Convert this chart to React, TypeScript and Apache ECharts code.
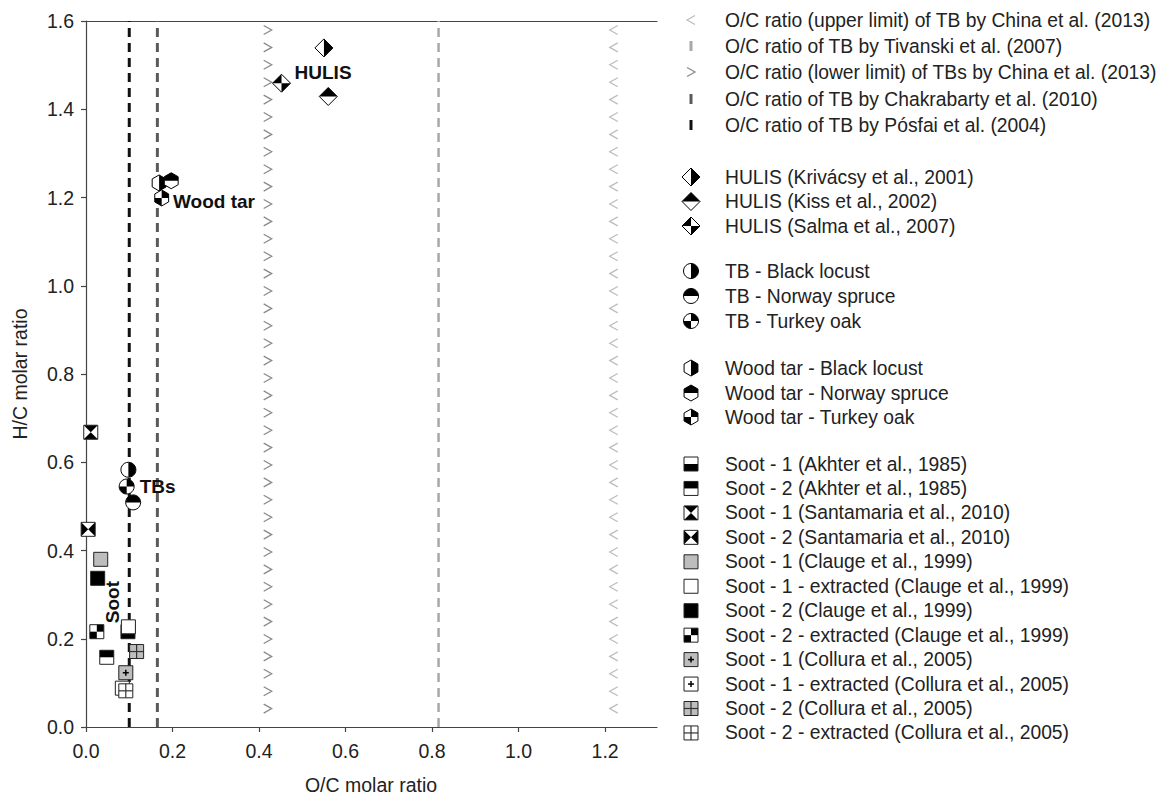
import React, { useEffect, useRef } from 'react';
import * as echarts from 'echarts';

// ---------- axes ----------
const xTicks = [0, 0.2, 0.4, 0.6, 0.8, 1.0, 1.2];
const yTicks = [0, 0.2, 0.4, 0.6, 0.8, 1.0, 1.2, 1.4, 1.6];
const xMax = 1.32;
const yMax = 1.6;

// ---------- reference O/C lines ----------
const refNames = [
  'O/C ratio (upper limit) of TB by China et al. (2013)',
  'O/C ratio of TB by Tivanski et al. (2007)',
  'O/C ratio (lower limit) of TBs by China et al. (2013)',
  'O/C ratio of TB by Chakrabarty et al. (2010)',
  'O/C ratio of TB by Pósfai et al. (2004)',
];
const refOC = [1.22, 0.815, 0.42, 0.165, 0.1];

// ---------- HULIS ----------
const hulisNames = ['HULIS (Krivácsy et al., 2001)', 'HULIS (Kiss et al., 2002)', 'HULIS (Salma et al., 2007)'];
const hulisOC = [0.55, 0.56, 0.452];
const hulisHC = [1.539, 1.429, 1.459];

// ---------- TB ----------
const tbNames = ['TB - Black locust', 'TB - Norway spruce', 'TB - Turkey oak'];
const tbOC = [0.098, 0.109, 0.094];
const tbHC = [0.583, 0.509, 0.545];

// ---------- Wood tar ----------
const woodNames = ['Wood tar - Black locust', 'Wood tar - Norway spruce', 'Wood tar - Turkey oak'];
const woodOC = [0.169, 0.197, 0.175];
const woodHC = [1.233, 1.238, 1.199];

// ---------- Soot ----------
const sootNames = [
  'Soot - 1 (Akhter et al., 1985)',
  'Soot - 2 (Akhter et al., 1985)',
  'Soot - 1 (Santamaria et al., 2010)',
  'Soot - 2 (Santamaria et al., 2010)',
  'Soot - 1 (Clauge et al., 1999)',
  'Soot - 1 - extracted (Clauge et al., 1999)',
  'Soot - 2 (Clauge et al., 1999)',
  'Soot - 2 - extracted (Clauge et al., 1999)',
  'Soot - 1 (Collura et al., 2005)',
  'Soot - 1 - extracted (Collura et al., 2005)',
  'Soot - 2 (Collura et al., 2005)',
  'Soot - 2 - extracted (Collura et al., 2005)',
];
const sootOC = [0.097, 0.048, 0.011, 0.005, 0.034, 0.098, 0.027, 0.025, 0.092, 0.084, 0.117, 0.092];
const sootHC = [0.216, 0.158, 0.668, 0.448, 0.38, 0.227, 0.337, 0.216, 0.123, 0.088, 0.171, 0.082];

// ---------- annotations ----------
const annotTexts = ['HULIS', 'Wood tar', 'TBs', 'Soot'];
const annotOC = [0.548, 0.201, 0.124, 0.062];
const annotHC = [1.483, 1.191, 0.546, 0.283];

// ---------- styles (not data) ----------
const refKinds = ['lt', 'vdash', 'gt', 'vdash', 'vdash'];
const refColors = ['#bdbdbd', '#a8a8a8', '#8a8a8a', '#5a5a5a', '#111111'];
const refWidths = [0, 2.5, 0, 3, 3];
const hulisKinds = ['dRight', 'dTop', 'dQuad'];
const tbKinds = ['cRight', 'cTop', 'cQuad'];
const woodKinds = ['hRight', 'hTop', 'hQuad'];
const sootKinds = ['sBottom', 'sTop', 'sHour', 'sBow', 'sGray', 'sWhite', 'sBlack', 'sCheck', 'sGrayDot', 'sWhiteDot', 'sGrayGrid', 'sWhiteGrid'];
const annotAlign = ['center', 'left', 'left', 'center'];
const annotRot = [0, 0, 0, Math.PI / 2];

const FONT = '"Liberation Sans", Arial, Helvetica, sans-serif';
const K = '#000';
const GRAY = '#bdbdbd';

function drawMarker(kind: string, cx: number, cy: number, color?: string): any[] {
  const els: any[] = [];
  const fillB = (pts: number[][]) => ({ type: 'polygon', shape: { points: pts }, style: { fill: K } });
  if (kind === 'lt') {
    els.push({ type: 'polyline', shape: { points: [[cx + 4, cy - 4.5], [cx - 4, cy], [cx + 4, cy + 4.5]] }, style: { stroke: color, lineWidth: 1.3, fill: 'none' } });
  } else if (kind === 'gt') {
    els.push({ type: 'polyline', shape: { points: [[cx - 4, cy - 4.5], [cx + 4, cy], [cx - 4, cy + 4.5]] }, style: { stroke: color, lineWidth: 1.3, fill: 'none' } });
  } else if (kind === 'vdash') {
    els.push({ type: 'rect', shape: { x: cx - 1.5, y: cy - 5, width: 3, height: 10 }, style: { fill: color } });
  } else if (kind[0] === 'c') {
    const r = 7.5;
    els.push({ type: 'circle', shape: { cx, cy, r }, style: { fill: '#fff' } });
    const sec = (a0: number, a1: number) => ({
      type: 'sector',
      shape: { cx, cy, r0: 0, r, startAngle: a0, endAngle: a1, clockwise: true },
      style: { fill: K },
    });
    if (kind === 'cRight') els.push(sec(-Math.PI / 2, Math.PI / 2));
    if (kind === 'cTop') els.push(sec(Math.PI, 2 * Math.PI));
    if (kind === 'cQuad') {
      els.push(sec(-Math.PI / 2, 0));
      els.push(sec(Math.PI / 2, Math.PI));
    }
    els.push({ type: 'circle', shape: { cx, cy, r }, style: { fill: 'none', stroke: K, lineWidth: 1 } });
  } else if (kind[0] === 'h') {
    const r = 8;
    const a = r * Math.cos(Math.PI / 6);
    const hex = [
      [cx, cy - r], [cx + a, cy - r / 2], [cx + a, cy + r / 2],
      [cx, cy + r], [cx - a, cy + r / 2], [cx - a, cy - r / 2],
    ];
    els.push({ type: 'polygon', shape: { points: hex }, style: { fill: '#fff' } });
    if (kind === 'hRight') els.push(fillB([[cx, cy - r], [cx + a, cy - r / 2], [cx + a, cy + r / 2], [cx, cy + r]]));
    if (kind === 'hTop') els.push(fillB([[cx - a, cy], [cx - a, cy - r / 2], [cx, cy - r], [cx + a, cy - r / 2], [cx + a, cy]]));
    if (kind === 'hQuad') {
      els.push(fillB([[cx, cy], [cx, cy - r], [cx + a, cy - r / 2], [cx + a, cy]]));
      els.push(fillB([[cx, cy], [cx, cy + r], [cx - a, cy + r / 2], [cx - a, cy]]));
    }
    els.push({ type: 'polygon', shape: { points: hex }, style: { fill: 'none', stroke: K, lineWidth: 1 } });
  } else if (kind[0] === 'd') {
    const r = 9;
    const dia = [[cx, cy - r], [cx + r, cy], [cx, cy + r], [cx - r, cy]];
    els.push({ type: 'polygon', shape: { points: dia }, style: { fill: '#fff' } });
    if (kind === 'dRight') els.push(fillB([[cx, cy - r], [cx + r, cy], [cx, cy + r]]));
    if (kind === 'dTop') els.push(fillB([[cx - r, cy], [cx, cy - r], [cx + r, cy]]));
    if (kind === 'dQuad') {
      els.push(fillB([[cx, cy], [cx - r, cy], [cx, cy - r]]));
      els.push(fillB([[cx, cy], [cx + r, cy], [cx, cy + r]]));
    }
    els.push({ type: 'polygon', shape: { points: dia }, style: { fill: 'none', stroke: K, lineWidth: 1 } });
  } else if (kind[0] === 's') {
    const h = 7;
    let base = '#fff';
    if (kind === 'sGray' || kind === 'sGrayDot' || kind === 'sGrayGrid') base = GRAY;
    if (kind === 'sBlack') base = K;
    els.push({ type: 'rect', shape: { x: cx - h, y: cy - h, width: 2 * h, height: 2 * h }, style: { fill: base } });
    if (kind === 'sBottom') els.push(fillB([[cx - h, cy], [cx + h, cy], [cx + h, cy + h], [cx - h, cy + h]]));
    if (kind === 'sTop') els.push(fillB([[cx - h, cy - h], [cx + h, cy - h], [cx + h, cy], [cx - h, cy]]));
    if (kind === 'sHour') {
      els.push(fillB([[cx - h, cy - h], [cx + h, cy - h], [cx, cy]]));
      els.push(fillB([[cx - h, cy + h], [cx + h, cy + h], [cx, cy]]));
    }
    if (kind === 'sBow') {
      els.push(fillB([[cx - h, cy - h], [cx - h, cy + h], [cx, cy]]));
      els.push(fillB([[cx + h, cy - h], [cx + h, cy + h], [cx, cy]]));
    }
    if (kind === 'sCheck') {
      els.push(fillB([[cx, cy - h], [cx + h, cy - h], [cx + h, cy], [cx, cy]]));
      els.push(fillB([[cx - h, cy], [cx, cy], [cx, cy + h], [cx - h, cy + h]]));
    }
    if (kind === 'sGrayDot' || kind === 'sWhiteDot') {
      els.push({ type: 'line', shape: { x1: cx - 3, y1: cy, x2: cx + 3, y2: cy }, style: { stroke: K, lineWidth: 1.5 } });
      els.push({ type: 'line', shape: { x1: cx, y1: cy - 3, x2: cx, y2: cy + 3 }, style: { stroke: K, lineWidth: 1.5 } });
    }
    if (kind === 'sGrayGrid' || kind === 'sWhiteGrid') {
      els.push({ type: 'line', shape: { x1: cx - h, y1: cy, x2: cx + h, y2: cy }, style: { stroke: '#333', lineWidth: 1.2 } });
      els.push({ type: 'line', shape: { x1: cx, y1: cy - h, x2: cx, y2: cy + h }, style: { stroke: '#333', lineWidth: 1.2 } });
    }
    els.push({ type: 'rect', shape: { x: cx - h, y: cy - h, width: 2 * h, height: 2 * h }, style: { fill: 'none', stroke: '#222', lineWidth: 1 } });
  }
  return els;
}

export default function App() {
  const ref = useRef<HTMLDivElement>(null);
  useEffect(() => {
    if (!ref.current) return;
    const chart = echarts.init(ref.current, undefined, { renderer: 'svg' });

    const series: any[] = [];

    refOC.forEach((oc, i) => {
      if (refKinds[i] === 'vdash') {
        series.push({
          type: 'line',
          name: refNames[i],
          data: [[oc, 0], [oc, yMax]],
          symbol: 'none',
          silent: true,
          z: 1,
          lineStyle: { color: refColors[i], width: refWidths[i], type: [9, 6] },
        });
      } else {
        series.push({
          type: 'custom',
          name: refNames[i],
          data: [[oc, yMax]],
          silent: true,
          z: 1,
          renderItem: (params: any, api: any) => {
            const top = api.coord([api.value(0), yMax]);
            const bot = api.coord([api.value(0), 0]);
            const children: any[] = [];
            for (let y = top[1] + 9; y < bot[1] - 2; y += 17.4) {
              children.push(...drawMarker(refKinds[i], top[0], y, refColors[i]));
            }
            return { type: 'group', children };
          },
        });
      }
    });

    const addGroup = (names: string[], oc: number[], hc: number[], kinds: string[]) => {
      names.forEach((n, i) => {
        series.push({
          type: 'custom',
          name: n,
          data: [[oc[i], hc[i]]],
          z: 5,
          renderItem: (params: any, api: any) => {
            const p = api.coord([api.value(0), api.value(1)]);
            return { type: 'group', children: drawMarker(kinds[i], p[0], p[1]) };
          },
        });
      });
    };
    addGroup(woodNames, woodOC, woodHC, woodKinds);
    addGroup(tbNames, tbOC, tbHC, tbKinds);
    addGroup(hulisNames, hulisOC, hulisHC, hulisKinds);
    addGroup(sootNames, sootOC, sootHC, sootKinds);

    series.push({
      type: 'custom',
      name: 'annotations',
      data: annotOC.map((x, i) => [x, annotHC[i]]),
      z: 6,
      renderItem: (params: any, api: any) => {
        const i = params.dataIndex;
        const p = api.coord([api.value(0), api.value(1)]);
        return {
          type: 'text',
          x: p[0],
          y: p[1],
          rotation: annotRot[i],
          style: {
            text: annotTexts[i],
            font: 'bold 19px ' + FONT,
            fill: '#111',
            align: annotAlign[i],
            verticalAlign: 'middle',
          },
        };
      },
    });

    const legendRows: { kind: string; color?: string; text: string; y: number }[] = [];
    const g1Y = [20, 46, 72, 99, 125];
    refNames.forEach((t, i) => legendRows.push({ kind: refKinds[i], color: refColors[i], text: t, y: g1Y[i] }));
    const hY = [177, 201.5, 226];
    hulisNames.forEach((t, i) => legendRows.push({ kind: hulisKinds[i], text: t, y: hY[i] }));
    const tY = [271, 296, 321];
    tbNames.forEach((t, i) => legendRows.push({ kind: tbKinds[i], text: t, y: tY[i] }));
    const wY = [368, 393, 417];
    woodNames.forEach((t, i) => legendRows.push({ kind: woodKinds[i], text: t, y: wY[i] }));
    sootNames.forEach((t, i) => legendRows.push({ kind: sootKinds[i], text: t, y: 464 + i * 24.45 }));

    const legendIconX = 691;
    const legendTextX = 725;
    const graphic: any[] = [];
    legendRows.forEach((r) => {
      graphic.push({ type: 'group', children: drawMarker(r.kind, legendIconX, r.y, r.color) });
      graphic.push({
        type: 'text',
        x: legendTextX,
        y: r.y,
        style: { text: r.text, font: '19.3px ' + FONT, fill: '#222', verticalAlign: 'middle', textVerticalAlign: 'middle' },
      });
    });
    graphic.push({
      type: 'text',
      x: 371,
      y: 785,
      style: { text: 'O/C molar ratio', font: '19.5px ' + FONT, fill: '#222', align: 'center', verticalAlign: 'middle', textAlign: 'center', textVerticalAlign: 'middle' },
    });
    graphic.push({
      type: 'text',
      x: 20,
      y: 374,
      rotation: Math.PI / 2,
      style: { text: 'H/C molar ratio', font: '19.5px ' + FONT, fill: '#222', align: 'center', verticalAlign: 'middle', textAlign: 'center', textVerticalAlign: 'middle' },
    });

    const axisCommon = {
      axisLine: { show: true, lineStyle: { color: '#444', width: 1.2 } },
      axisTick: { show: true, length: 5, lineStyle: { color: '#444', width: 1.2 } },
      splitLine: { show: false },
    };

    chart.setOption({
      animation: false,
      backgroundColor: '#fff',
      grid: { left: 86, top: 21, width: 571, height: 706 },
      xAxis: [
        {
          type: 'value',
          min: 0,
          max: xMax,
          interval: 0.2,
          ...axisCommon,
          axisTick: { ...axisCommon.axisTick, customValues: xTicks },
          axisLabel: {
            customValues: xTicks,
            formatter: (v: number) => v.toFixed(1),
            fontSize: 19.5,
            fontFamily: FONT,
            color: '#222',
            margin: 14,
          },
        },
        {
          type: 'value',
          min: 0,
          max: xMax,
          position: 'top',
          axisLine: { show: true, onZero: false, lineStyle: { color: '#444', width: 1.2 } },
          axisTick: { show: false },
          axisLabel: { show: false },
          splitLine: { show: false },
        },
      ],
      yAxis: {
        type: 'value',
        min: 0,
        max: yMax,
        interval: 0.2,
        ...axisCommon,
        axisTick: { ...axisCommon.axisTick, customValues: yTicks },
        axisLabel: {
          customValues: yTicks,
          formatter: (v: number) => v.toFixed(1),
          fontSize: 19.5,
          fontFamily: FONT,
          color: '#222',
          margin: 12,
        },
      },
      series,
      graphic,
    });
    return () => chart.dispose();
  }, []);
  return <div ref={ref} style={{ position: 'fixed', left: 0, top: 0, width: 1170, height: 799, background: '#fff' }} />;
}
